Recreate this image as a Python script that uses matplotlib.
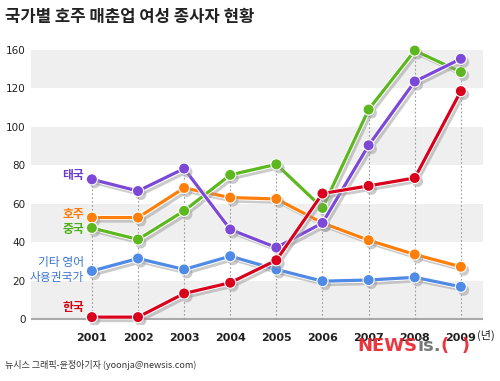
import numpy as np
import matplotlib
matplotlib.use('Agg')
import matplotlib.pyplot as plt
import matplotlib.patheffects as pe
from matplotlib import font_manager

plt.rcParams['font.family'] = ['Noto Sans CJK KR', 'DejaVu Sans']

# --- 데이터 ---
years = [2001, 2002, 2003, 2004, 2005, 2006, 2007, 2008, 2009]
thailand = [72.7, 66.6, 78.3, 46.6, 37.2, 50.0, 90.4, 123.6, 135.4]
australia = [52.8, 52.8, 68.2, 63.2, 62.5, 50.0, 41.0, 33.6, 27.2]
china = [47.4, 41.4, 56.3, 75.0, 80.5, 57.8, 109.0, 139.7, 128.5]
english = [25.0, 31.5, 25.8, 32.7, 25.8, 19.7, 20.3, 21.7, 16.8]
korea = [1.0, 1.0, 13.3, 18.9, 30.6, 65.3, 69.3, 73.4, 118.6]

ytick_pos = [0, 20, 40, 60, 80, 100, 120, 140]
ytick_labels = ['0', '20', '40', '60', '80', '100', '120', '160']

# 시리즈: (데이터, 선 색, 라벨, 라벨 색, 라벨 y 위치)
series = [
    (english, '#4f8ae6', '기타 영어\n사용권국가', '#3b76d6', 25.5),
    (australia, '#ff7f0a', '호주', '#ff7a00', 54.5),
    (china, '#5cb81e', '중국', '#4aae16', 46.8),
    (thailand, '#7b48d8', '태국', '#6a3ccc', 74.8),
    (korea, '#d8001c', '한국', '#d40010', 6.2),
]

fig = plt.figure(figsize=(5, 3.81), dpi=100)
ax = fig.add_axes([0.062, 0.1475, 0.904, 0.7415])
ax.set_xlim(1999.68, 2009.48)
ax.set_ylim(-3, 144)

# 회색 띠 배경
for lo in [0, 40, 80, 120]:
    ax.axhspan(lo, lo + 20, color='#efeff0', zorder=0, lw=0)
ax.axhline(0, color='#aaaaaa', lw=1.5, zorder=1)

# 연도별 점선
tops = np.max([thailand, australia, china, english, korea], axis=0)
ax.vlines(years, 0, tops, colors='#9a9a9a', linestyles=(0, (1.5, 2)), lw=0.8, zorder=1)

line_fx = [pe.SimpleLineShadow(offset=(2, -2.5), shadow_color='#999999', alpha=0.5),
           pe.Stroke(linewidth=3.6, foreground='white'), pe.Normal()]
mark_fx = [pe.SimplePatchShadow(offset=(2, -2.5), shadow_rgbFace='#999999', alpha=0.5),
           pe.Normal()]

for i, (vals, col, label, lcol, ly) in enumerate(series):
    ax.plot(years, vals, color=col, lw=2.3, zorder=3 + i, solid_capstyle='round',
            path_effects=line_fx)
    ax.plot(years, vals, ls='none', marker='o', markersize=8, color=col,
            markeredgecolor='white', markeredgewidth=0.8, zorder=3 + i,
            path_effects=mark_fx)
    ax.text(2000.83, ly, label, color=lcol, fontsize=8.5, ha='right', va='center',
            linespacing=1.25, fontweight='bold' if '\n' not in label else 'normal')

ax.set_xticks(years)
ax.set_xticklabels([str(y) for y in years], fontsize=8, fontweight='bold', color='#222222',
                   family='DejaVu Sans')
ax.set_yticks(ytick_pos)
ax.set_yticklabels(ytick_labels, fontsize=7.5, color='#222222', family='DejaVu Sans')
ax.tick_params(length=0, pad=4)
ax.tick_params(axis='x', pad=6)
for s in ax.spines.values():
    s.set_visible(False)

fig.text(0.972, 0.12, '(년)', fontsize=8, color='#222222', ha='center', va='center')

# 제목 / 출처
fig.text(0.01, 0.955, '국가별 호주 매춘업 여성 종사자 현황', fontsize=12, fontweight='bold',
         color='#222222', ha='left', va='center')
fig.text(0.01, 0.042, '뉴시스 그래픽-윤정아기자 (yoonja@newsis.com)', fontsize=6.5,
         color='#333333', ha='left', va='center')

# 워터마크
names = {f.name for f in font_manager.fontManager.ttflist}
wm_font = 'Liberation Sans Narrow' if 'Liberation Sans Narrow' in names else 'DejaVu Sans Condensed'
if wm_font not in names:
    wm_font = 'DejaVu Sans'
t1 = fig.text(0.714, 0.092, 'NEWS', fontsize=13, fontweight='bold', color='#e8202a',
              family=wm_font, ha='left', va='center', alpha=0.9)
t2 = ax.annotate('is.', xy=(1, 0.5), xycoords=t1, fontsize=13, fontweight='bold',
                 color='#6a6a6a', family=wm_font, ha='left', va='center', alpha=0.9,
                 annotation_clip=False)
ax.annotate('(  )', xy=(1, 0.5), xycoords=t2, fontsize=13, fontweight='bold',
            color='#e8202a', family=wm_font, ha='left', va='center', alpha=0.9,
            annotation_clip=False)

fig.savefig('out.png', dpi=100)
